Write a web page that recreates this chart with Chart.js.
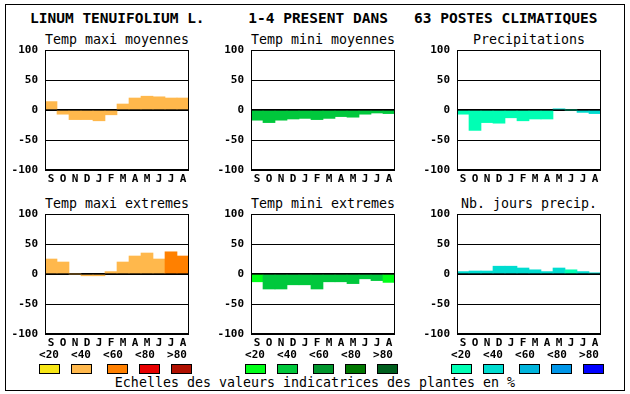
<!DOCTYPE html>
<html lang="fr">
<head>
<meta charset="UTF-8">
<title>Linum tenuifolium</title>
<script src="https://cdn.jsdelivr.net/npm/chart.js"></script>
<style>
  body { margin: 0; background: #fff; }
  #page { position: relative; width: 630px; height: 394px; overflow: hidden; font-family: "DejaVu Sans Mono", monospace; color: #000; }
  #frame { position: absolute; left: 5px; top: 4px; width: 620px; height: 387px; box-sizing: border-box; border: 1px solid #000; }
  .txt { position: absolute; white-space: pre; line-height: 1; }
  #title { left: 30px; top: 11px; font-size: 14.5px; font-weight: bold; }
  .sub { font-size: 13.3px; width: 144px; text-align: center; }
  .lab { font-size: 11px; font-weight: bold; width: 30px; text-align: center; }
  .box { position: absolute; width: 21px; height: 10px; box-sizing: border-box; border: 1px solid #000; }
  #foot { left: 0; width: 630px; text-align: center; top: 376px; font-size: 13.3px; }
  canvas { position: absolute; }
</style>
</head>
<body>
<div id="page">
  <div id="frame"></div>
  <div id="title" class="txt">LINUM TENUIFOLIUM L.     1-4 PRESENT DANS   63 POSTES CLIMATIQUES</div>
  <div id="foot" class="txt">Echelles des valeurs indicatrices des plantes en %</div>
</div>
<script>
var months = ['S', 'O', 'N', 'D', 'J', 'F', 'M', 'A', 'M', 'J', 'J', 'A'];
var yTicks = [-100, -50, 0, 50, 100];
var classLabels = ['<20', '<40', '<60', '<80', '>80'];

var warm = ['#f7e616', '#ffb84c', '#ff8000', '#e80000', '#b01000'];
var green = ['#00ff18', '#00c83c', '#00962d', '#007800', '#005f1e'];
var blue = ['#00ffb4', '#00dcd0', '#00b4dc', '#0096e8', '#0000ff'];

var tmaxMoy = [14, -7, -16, -16, -18, -8, 10, 20, 23, 22, 20, 20];
var tmaxMoyCls = [1, 1, 1, 1, 1, 1, 1, 1, 1, 1, 1, 1];
var tminMoy = [-17, -21, -17, -15, -14, -16, -14, -11, -12, -7, -5, -6];
var tminMoyCls = [1, 1, 1, 1, 1, 1, 1, 1, 1, 1, 1, 1];
var precip = [-7, -34, -21, -22, -13, -18, -15, -15, 2, 0, -4, -6];
var precipCls = [0, 0, 0, 0, 0, 0, 0, 0, 1, 0, 1, 1];
var tmaxExt = [25, 20, 0, -3, -3, 4, 20, 30, 35, 25, 37, 30];
var tmaxExtCls = [1, 1, 1, 1, 1, 1, 1, 1, 1, 1, 2, 2];
var tminExt = [-13, -25, -25, -18, -18, -25, -13, -13, -16, -8, -11, -14];
var tminExtCls = [0, 1, 1, 1, 1, 1, 1, 1, 1, 1, 1, 0];
var nbJours = [4, 5, 5, 13, 13, 10, 7, 4, 10, 7, 4, 2];
var nbJoursCls = [1, 1, 1, 1, 1, 1, 1, 1, 1, 0, 1, 1];

var panels = [
    { name: 'Temp maxi moyennes', data: tmaxMoy, cls: tmaxMoyCls, pal: warm, left: 45, top: 50 },
    { name: 'Temp mini moyennes', data: tminMoy, cls: tminMoyCls, pal: green, left: 251, top: 50 },
    { name: 'Precipitations', data: precip, cls: precipCls, pal: blue, left: 457, top: 50 },
    { name: 'Temp maxi extremes', data: tmaxExt, cls: tmaxExtCls, pal: warm, left: 45, top: 214 },
    { name: 'Temp mini extremes', data: tminExt, cls: tminExtCls, pal: green, left: 251, top: 214 },
    { name: 'Nb. jours precip.', data: nbJours, cls: nbJoursCls, pal: blue, left: 457, top: 214 }
];

var labelOffsets = [4, 36, 68, 100, 132];
var boxOffsets = [-6, 26, 62, 94, 126];

var frameBox = {
    id: 'frameBox',
    afterDraw: function (chart) {
        var a = chart.chartArea, c = chart.ctx;
        c.save();
        c.strokeStyle = '#000';
        c.lineWidth = 1;
        c.strokeRect(a.left + 0.5, a.top + 0.5, a.right - a.left - 1, a.bottom - a.top - 1);
        c.restore();
    }
};

var page = document.getElementById('page');

function addDiv(cls, text, x, y) {
    var d = document.createElement('div');
    d.className = cls;
    if (text !== null) d.textContent = text;
    d.style.left = x + 'px';
    d.style.top = y + 'px';
    page.appendChild(d);
    return d;
}

panels.forEach(function (p, i) {
    addDiv('txt sub', p.name, p.left, p.top - 17);

    var cv = document.createElement('canvas');
    cv.width = 193;
    cv.height = 146;
    cv.style.left = (p.left - 45) + 'px';
    cv.style.top = (p.top - 8) + 'px';
    page.appendChild(cv);

    new Chart(cv.getContext('2d'), {
        type: 'bar',
        data: {
            labels: months,
            datasets: [{
                data: p.data,
                backgroundColor: p.cls.map(function (k) { return p.pal[k]; }),
                borderWidth: 0,
                barPercentage: 1,
                categoryPercentage: 1
            }]
        },
        options: {
            responsive: false,
            animation: false,
            devicePixelRatio: 1,
            layout: { padding: { top: 8, right: 4, left: 0, bottom: 0 } },
            plugins: { legend: { display: false }, tooltip: { enabled: false } },
            scales: {
                x: {
                    grid: { display: false, drawTicks: false },
                    border: { display: false },
                    ticks: {
                        color: '#000', padding: 3, maxRotation: 0, autoSkip: false,
                        font: { family: 'DejaVu Sans Mono', size: 11, weight: 'bold' }
                    },
                    afterFit: function (s) { s.height = 18; }
                },
                y: {
                    min: -100, max: 100,
                    z: 1,
                    afterBuildTicks: function (s) { s.ticks = yTicks.map(function (v) { return { value: v }; }); },
                    grid: {
                        color: '#000', drawTicks: false,
                        lineWidth: function (c) { return c.tick && c.tick.value === 0 ? 2 : 1; }
                    },
                    border: { display: false },
                    ticks: {
                        color: '#000', padding: 7,
                        font: { family: 'DejaVu Sans Mono', size: 11, weight: 'bold', lineHeight: 0.01 }
                    },
                    afterFit: function (s) { s.width = 45; s.paddingTop = 0; s.paddingBottom = 0; }
                }
            }
        },
        plugins: [frameBox]
    });

    if (i >= 3) {
        classLabels.forEach(function (t, k) {
            addDiv('txt lab', t, p.left + labelOffsets[k] - 15, 349);
            var b = addDiv('box', null, p.left + boxOffsets[k], 364);
            b.style.background = p.pal[k];
        });
    }
});
</script>
</body>
</html>
